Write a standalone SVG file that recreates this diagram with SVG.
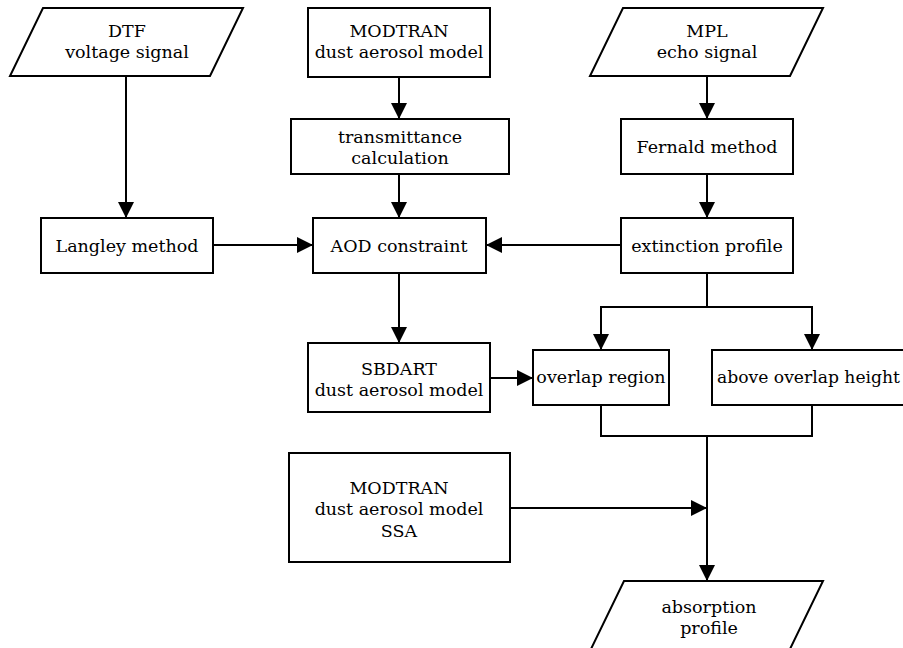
<svg xmlns="http://www.w3.org/2000/svg" width="903" height="648" viewBox="0 0 903 648">
<style>
.box{fill:#fff;stroke:#000;stroke-width:2}
.t{font-family:"DejaVu Serif","Liberation Serif",serif;font-size:17.5px;fill:#000;text-anchor:middle}
.c{fill:none;stroke:#000;stroke-width:2}
</style>
<defs>
<marker id="ah" viewBox="0 0 16 16" refX="16" refY="8" markerWidth="16" markerHeight="16" markerUnits="userSpaceOnUse" orient="auto">
<path d="M0,0 L16,8 L0,16 z" fill="#000"/>
</marker>
</defs>
<rect width="903" height="648" fill="#fff"/>
<g id="connectors">
<path class="c" d="M126,76 V218" marker-end="url(#ah)"/>
<path class="c" d="M399,77 V119" marker-end="url(#ah)"/>
<path class="c" d="M707,76 V119" marker-end="url(#ah)"/>
<path class="c" d="M399,174 V218" marker-end="url(#ah)"/>
<path class="c" d="M707,174 V218" marker-end="url(#ah)"/>
<path class="c" d="M213,245 H313" marker-end="url(#ah)"/>
<path class="c" d="M621,245 H486" marker-end="url(#ah)"/>
<path class="c" d="M399,273 V343" marker-end="url(#ah)"/>
<path class="c" d="M707,273 V307 M601,307 H812"/>
<path class="c" d="M601,306 V350" marker-end="url(#ah)"/>
<path class="c" d="M812,306 V350" marker-end="url(#ah)"/>
<path class="c" d="M490,378 H533" marker-end="url(#ah)"/>
<path class="c" d="M601,405 V436 H812 V405"/>
<path class="c" d="M707,436 V581" marker-end="url(#ah)"/>
<path class="c" d="M510,508 H707" marker-end="url(#ah)"/>
</g>
<g id="dtf">
<polygon class="box" points="43,8 243,8 210,76 10,76"/>
<text class="t" x="127" y="37">DTF</text>
<text class="t" x="127" y="58">voltage signal</text>
</g>
<g id="modtran1">
<rect class="box" x="308" y="8" width="182" height="69"/>
<text class="t" x="399" y="37">MODTRAN</text>
<text class="t" x="399" y="58">dust aerosol model</text>
</g>
<g id="mpl">
<polygon class="box" points="623,8 823,8 790,76 590,76"/>
<text class="t" x="707" y="37">MPL</text>
<text class="t" x="707" y="58">echo signal</text>
</g>
<g id="transmittance">
<rect class="box" x="291" y="119" width="218" height="55"/>
<text class="t" x="400" y="143">transmittance</text>
<text class="t" x="400" y="164">calculation</text>
</g>
<g id="fernald">
<rect class="box" x="621" y="119" width="172" height="55"/>
<text class="t" x="707" y="153">Fernald method</text>
</g>
<g id="langley">
<rect class="box" x="41" y="218" width="172" height="55"/>
<text class="t" x="127" y="252">Langley method</text>
</g>
<g id="aod">
<rect class="box" x="313" y="218" width="173" height="55"/>
<text class="t" x="399" y="252">AOD constraint</text>
</g>
<g id="extinction">
<rect class="box" x="621" y="218" width="172" height="55"/>
<text class="t" x="707" y="252">extinction profile</text>
</g>
<g id="sbdart">
<rect class="box" x="308" y="343" width="182" height="69"/>
<text class="t" x="399" y="375">SBDART</text>
<text class="t" x="399" y="396">dust aerosol model</text>
</g>
<g id="overlap">
<rect class="box" x="533" y="350" width="136" height="55"/>
<text class="t" x="601" y="383">overlap region</text>
</g>
<g id="above">
<rect class="box" x="712" y="350" width="200" height="55"/>
<text class="t" x="717" y="383" style="text-anchor:start" textLength="183" lengthAdjust="spacingAndGlyphs">above overlap height</text>
</g>
<g id="modtran-ssa">
<rect class="box" x="289" y="453" width="221" height="109"/>
<text class="t" x="399" y="494">MODTRAN</text>
<text class="t" x="399" y="515">dust aerosol model</text>
<text class="t" x="399" y="537">SSA</text>
</g>
<g id="absorption">
<polygon class="box" points="624,581 823,581 790,649 591,649"/>
<text class="t" x="709" y="613">absorption</text>
<text class="t" x="709" y="634">profile</text>
</g>
</svg>
